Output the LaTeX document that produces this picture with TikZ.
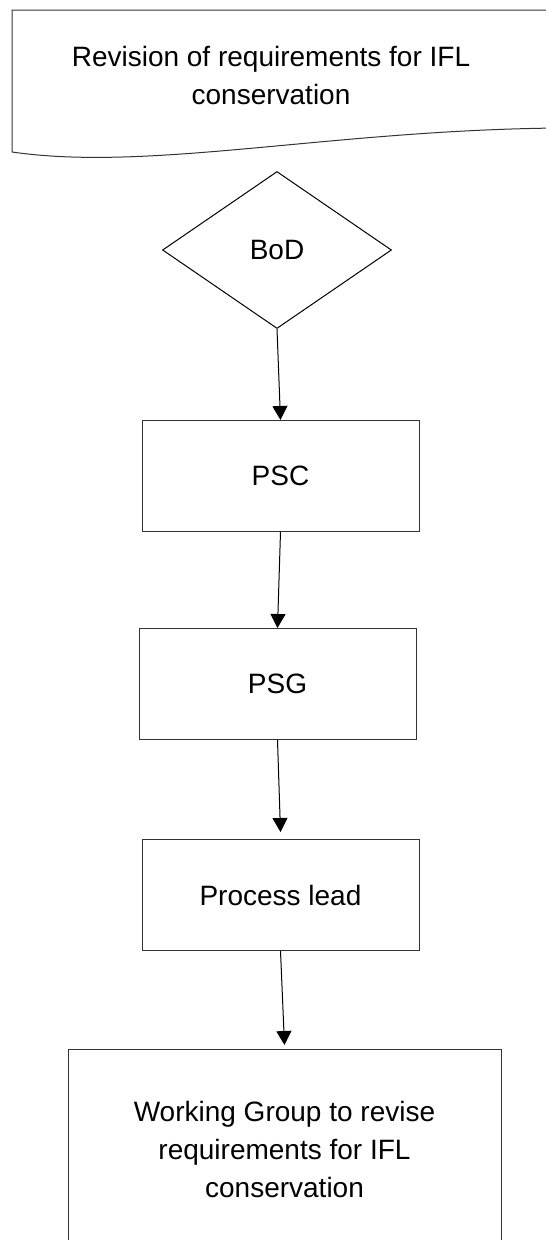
\documentclass[tikz,border=0pt]{standalone}
\usepackage{fontspec}
\setmainfont{Liberation Sans}
\usetikzlibrary{positioning,shapes.geometric,arrows.meta}

\begin{document}
\begin{tikzpicture}[x=1pt,y=1pt,auto,>={Triangle[width=15pt,length=14pt]},
    every node/.style={font=\fontsize{28}{38}\selectfont,align=center},
    box/.style={draw=black!80,line width=1pt,minimum width=277pt,minimum height=111pt,inner sep=0pt}]
    \useasboundingbox (0,0) rectangle (546,-1240);
    \clip (0,0) rectangle (546,-1240);
    % document shape at the top
    \draw[draw=black!80,line width=1pt] (570,-10) -- (12,-10) -- (12,-152) .. controls (150,-172) and (330,-130) .. (560,-128);
    \node[] (Revision) at (271,-75) {Revision of requirements for IFL\\conservation};
    \node[diamond,draw,line width=1pt,minimum width=229pt,minimum height=157pt,inner sep=0pt] (BoD) at (277,-250) {BoD};
    \node[box, below = 91pt of BoD, xshift=3.5pt] (PSC) {PSC};
    \node[box, below = 96pt of PSC, xshift=-3pt] (PSG) {PSG};
    \node[box, below = 99pt of PSG, xshift=3pt] (Lead) {Process lead};
    \node[box, below = 98pt of Lead, xshift=4pt, minimum width=433pt, minimum height=200pt] (Group) {Working Group to revise\\requirements for IFL\\conservation};
    %
    \draw[->,line width=1pt] (BoD.south) -- (PSC.north);
    \draw[->,line width=1pt] (PSC.south) -- (PSG.north);
    \draw[->,line width=1pt] (PSG.south) -- ([yshift=7pt]Lead.north);
    \draw[->,line width=1pt] (Lead.south) -- ([yshift=4pt]Group.north);
\end{tikzpicture}
\end{document}
